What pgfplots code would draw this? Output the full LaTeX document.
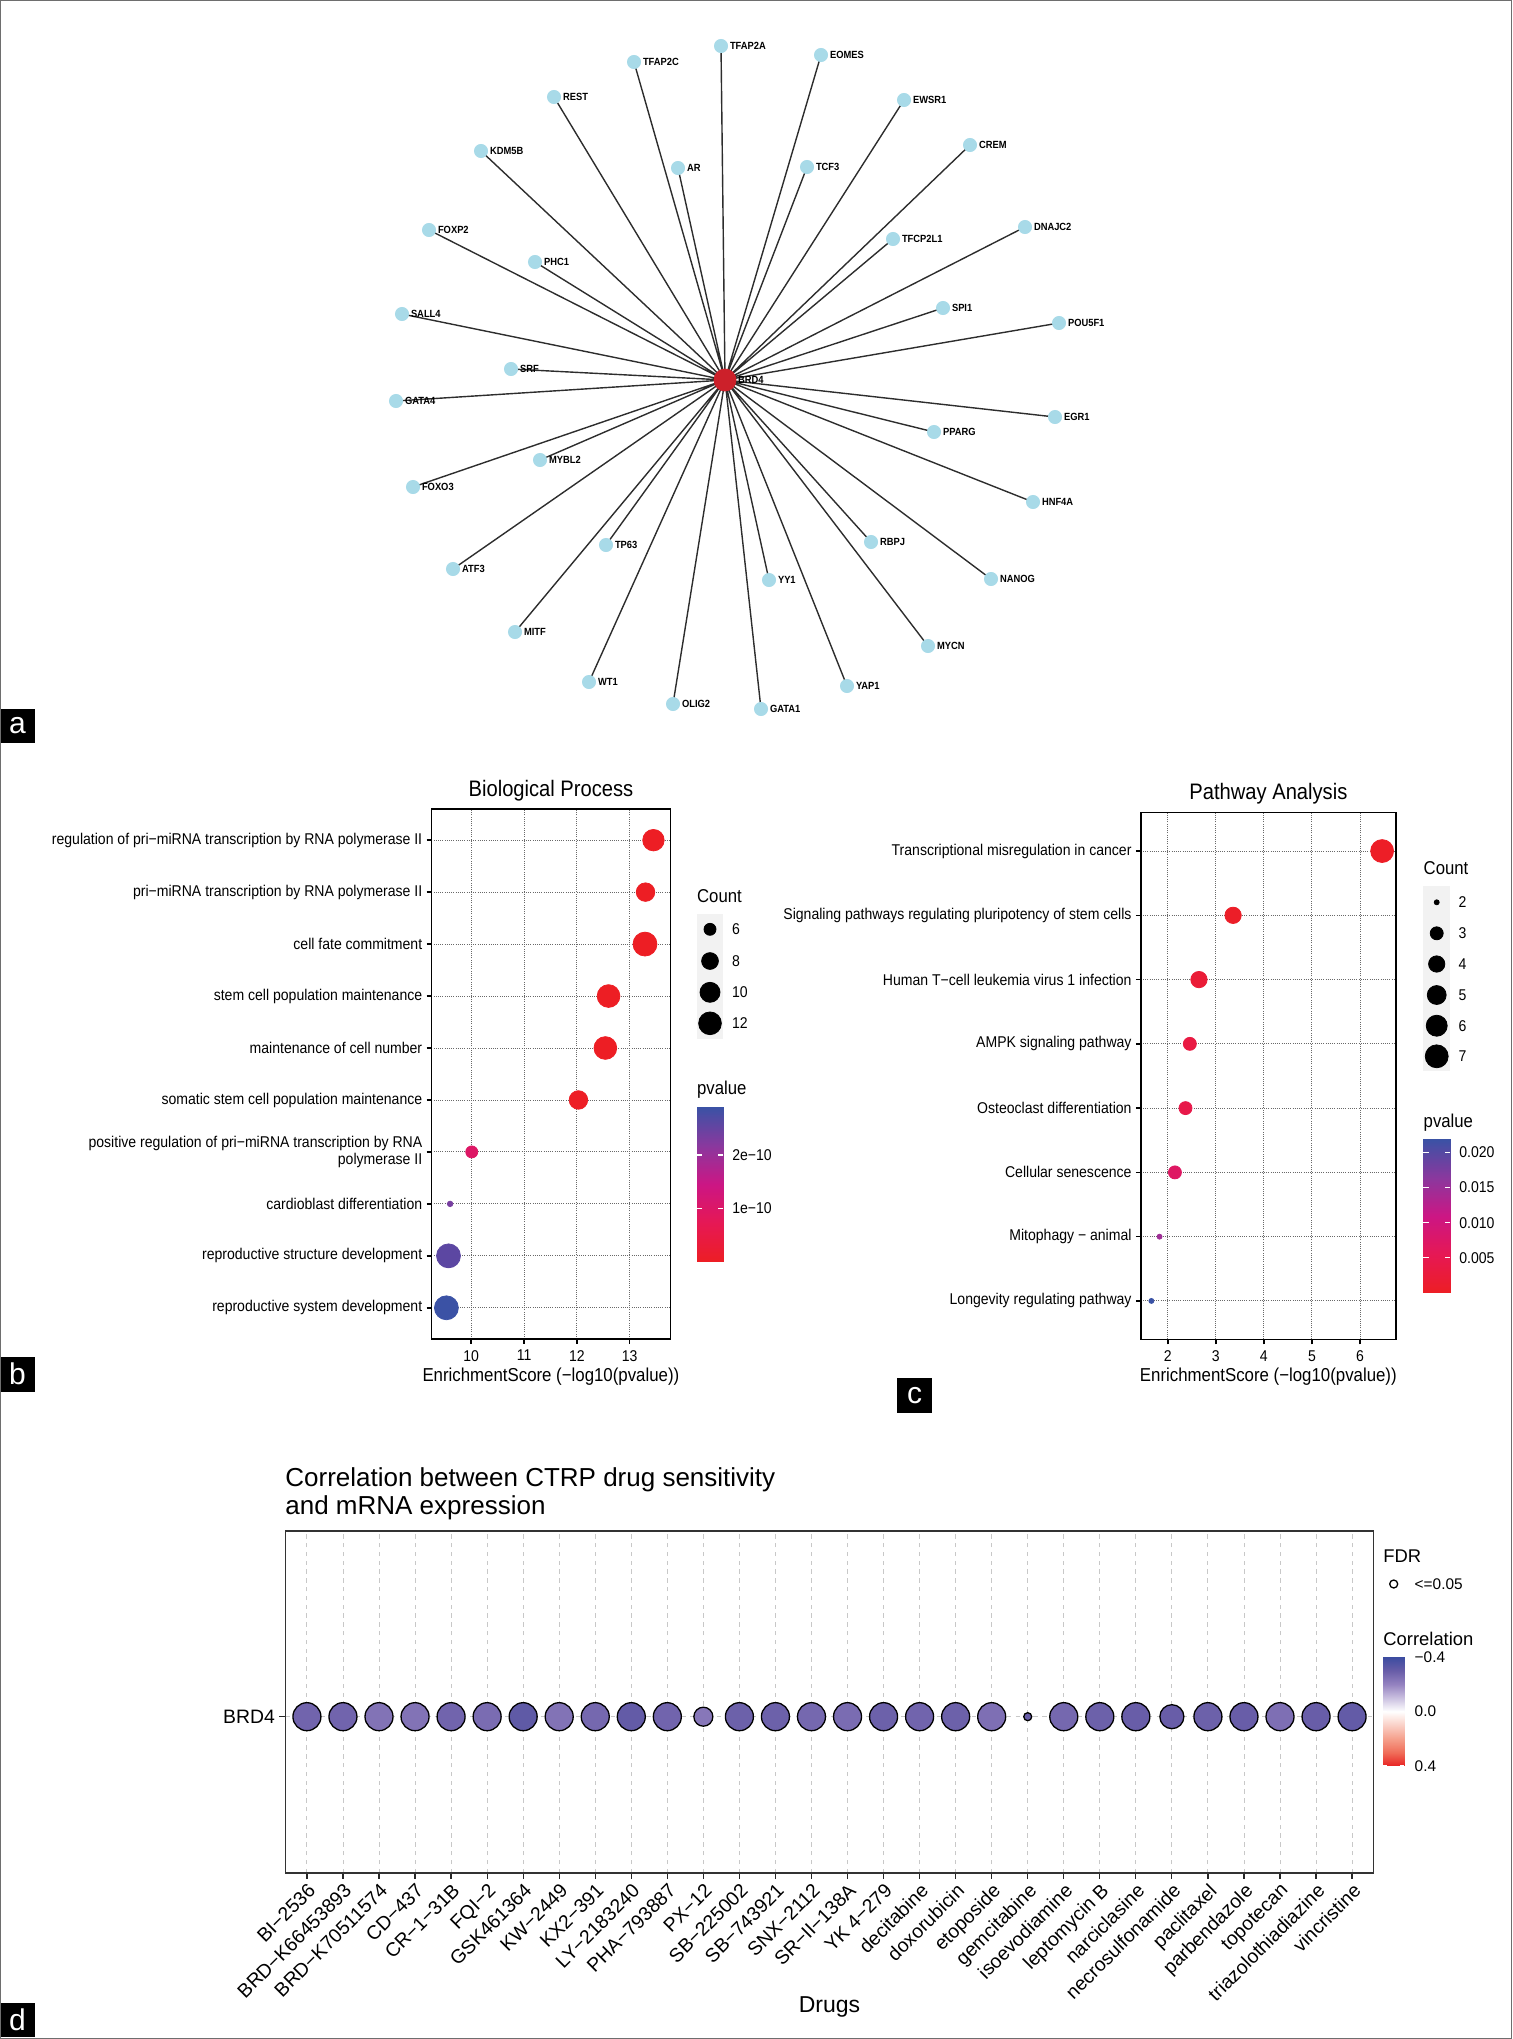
\documentclass[border=0pt]{standalone}
\usepackage{pgfplots}
\pgfplotsset{compat=1.18}
\usepackage{pgfplotstable}
\usepackage{fontspec}
\setmainfont{Liberation Sans}
\newfontfamily\nf{Liberation Sans}[FakeStretch=0.9]

\definecolor{nodeblue}{RGB}{168,218,232}
\definecolor{hubred}{RGB}{204,32,42}
\definecolor{edgecol}{RGB}{45,45,45}
\definecolor{gridcol}{RGB}{105,105,105}
\definecolor{dgrid}{RGB}{200,200,200}
\definecolor{keybg}{RGB}{242,242,242}
\definecolor{framecol}{RGB}{110,110,110}

\pgfplotsset{
  colormap={pv}{rgb255(0cm)=(237,30,36); rgb255(1cm)=(230,24,84); rgb255(2cm)=(204,22,132); rgb255(3cm)=(138,56,158); rgb255(4cm)=(58,82,165)},
  colormap={corr}{rgb255(0cm)=(59,76,160); rgb255(1cm)=(104,93,168); rgb255(2cm)=(148,130,192); rgb255(3cm)=(202,192,224); rgb255(4cm)=(255,255,255); rgb255(5cm)=(250,208,198); rgb255(6cm)=(245,160,140); rgb255(7cm)=(240,110,90); rgb255(8cm)=(232,35,35)},
  cbar/.style={scale only axis, anchor=south west, xmin=0, xmax=1, xtick=\empty,
    ytick pos=both, yticklabel pos=right, tick align=inside, scaled y ticks=false,
    axis line style={draw=none}, axis on top, clip=false},
}

% network nodes (pixel coordinates of the figure)
\pgfplotstableread{
x y name
721 46 TFAP2A
821 55 EOMES
634 62 TFAP2C
554 97 REST
904 100 EWSR1
970 145 CREM
481 151 KDM5B
678 168 AR
807 167 TCF3
1025 227 DNAJC2
429 230 FOXP2
893 239 TFCP2L1
535 262 PHC1
943 308 SPI1
1059 323 POU5F1
402 314 SALL4
511 369 SRF
396 401 GATA4
1055 417 EGR1
934 432 PPARG
540 460 MYBL2
413 487 FOXO3
1033 502 HNF4A
871 542 RBPJ
606 545 TP63
453 569 ATF3
991 579 NANOG
769 580 YY1
515 632 MITF
928 646 MYCN
589 682 WT1
847 686 YAP1
673 704 OLIG2
761 709 GATA1
}\netdata

% Biological process: x = enrichment, y = row (10 = top), c = count, p = pvalue/1e-10
\pgfplotstableread{
x y c p
13.45 10 11 0.0004
13.30 9 9 0.0005
13.29 8 13 0.0005
12.60 7 12 0.0025
12.54 6 12 0.0029
12.03 5 9 0.0093
10.01 4 6 0.98
9.60 3 5 2.35
9.57 2 13 2.60
9.53 1 13 2.90
}\bdata

% Pathway analysis
\pgfplotstableread{
x y c p
6.46 8 7 0.00035
3.36 7 4 0.00044
2.65 6 4 0.0022
2.46 5 3 0.0035
2.37 4 3 0.0043
2.15 3 3 0.0071
1.83 2 2 0.0148
1.66 1 2 0.0219
}\cdata

% CTRP correlation: x = drug index, r = correlation, d = bubble diameter (px)
\pgfplotstableread{
x r d
1 -0.28 28
2 -0.28 28
3 -0.24 28
4 -0.24 28
5 -0.28 28
6 -0.26 28
7 -0.32 28
8 -0.24 28
9 -0.27 28
10 -0.31 28
11 -0.28 28
12 -0.23 19
13 -0.29 28
14 -0.29 28
15 -0.27 28
16 -0.26 28
17 -0.29 28
18 -0.28 28
19 -0.29 28
20 -0.25 28
21 -0.30 8
22 -0.27 28
23 -0.29 28
24 -0.30 28
25 -0.30 24
26 -0.29 28
27 -0.30 28
28 -0.25 28
29 -0.30 28
30 -0.31 28
}\ddata

\begin{document}
\begin{tikzpicture}
\useasboundingbox (0,0) rectangle (756pt,1019.5pt);

% ---------------- panel b ----------------
\begin{axis}[
  at={(215.7pt,350pt)}, anchor=south west, scale only axis,
  width=119.5pt, height=265pt,
  xmin=9.246, xmax=13.771, ymin=0.4, ymax=10.6,
  xtick={10,11,12,13}, xticklabels={10,11,12,13},
  ytick={1,...,10},
  yticklabels={reproductive system development, reproductive structure development, cardioblast differentiation, {positive regulation of pri−miRNA transcription by RNA\\polymerase II}, somatic stem cell population maintenance, maintenance of cell number, stem cell population maintenance, cell fate commitment, pri−miRNA transcription by RNA polymerase II, regulation of pri−miRNA transcription by RNA polymerase II},
  tick pos=left, tick align=outside, major tick length=2.4pt,
  tick style={black, line width=0.8pt},
  axis line style={black, line width=0.85pt},
  grid=major, major grid style={gridcol, line width=0.45pt, dash pattern=on 0.5pt off 0.6pt},
  xticklabel style={font=\nf\fontsize{7.8}{9}\selectfont, inner sep=3pt},
  yticklabel style={font=\nf\fontsize{7.8}{8.7}\selectfont, align=right, inner sep=2pt},
  xlabel={EnrichmentScore (−log10(pvalue))},
  xlabel style={font=\nf\fontsize{9.35}{11}\selectfont, at={(axis description cs:0.5,-0.0711)}, anchor=center},
  colormap name=pv, point meta min=0, point meta max=2.906,
  clip=false,
]
\addplot[scatter, only marks, mark=*, point meta=explicit,
  scatter/use mapped color={draw=mapped color, fill=mapped color},
  visualization depends on={(5.5+18.4*sqrt((\thisrow{c}-5)/8))/4 \as \rad},
  scatter/@pre marker code/.append style={/tikz/mark size=\rad pt}]
  table[x=x, y=y, meta=p] {\bdata};
\end{axis}

% colour bar of panel b
\begin{axis}[cbar, at={(348.35pt,388.65pt)}, width=13.3pt, height=77.5pt,
  ymin=0, ymax=2.906, ytick={1,2}, yticklabels={1e−10,2e−10},
  major tick length=2.7pt, ytick style={white, line width=0.6pt},
  yticklabel style={font=\nf\fontsize{7.8}{9}\selectfont, inner sep=0pt, xshift=4.3pt},
  colormap name=pv, point meta min=0, point meta max=2.906]
\addplot[surf, shader=interp, mesh/rows=2, point meta=y] coordinates {(0,0) (1,0) (0,2.906) (1,2.906)};
\end{axis}

% ---------------- panel c ----------------
\begin{axis}[
  at={(570.35pt,349.75pt)}, anchor=south west, scale only axis,
  width=127.65pt, height=263.5pt,
  xmin=1.438, xmax=6.749, ymin=0.4, ymax=8.6,
  xtick={2,3,4,5,6}, xticklabels={2,3,4,5,6},
  ytick={1,...,8},
  yticklabels={Longevity regulating pathway, Mitophagy − animal, Cellular senescence, Osteoclast differentiation, AMPK signaling pathway, Human T−cell leukemia virus 1 infection, Signaling pathways regulating pluripotency of stem cells, Transcriptional misregulation in cancer},
  tick pos=left, tick align=outside, major tick length=2.4pt,
  tick style={black, line width=0.8pt},
  axis line style={black, line width=0.85pt},
  grid=major, major grid style={gridcol, line width=0.45pt, dash pattern=on 0.5pt off 0.6pt},
  xticklabel style={font=\nf\fontsize{7.8}{9}\selectfont, inner sep=3pt},
  yticklabel style={font=\nf\fontsize{7.8}{8.7}\selectfont, align=right, inner sep=2pt},
  xlabel={EnrichmentScore (−log10(pvalue))},
  xlabel style={font=\nf\fontsize{9.35}{11}\selectfont, at={(axis description cs:0.5,-0.0706)}, anchor=center},
  colormap name=pv, point meta min=0, point meta max=0.0219,
  clip=false,
]
\addplot[scatter, only marks, mark=*, point meta=explicit,
  scatter/use mapped color={draw=mapped color, fill=mapped color},
  visualization depends on={(5+17.9*sqrt((\thisrow{c}-2)/5))/4 \as \rad},
  scatter/@pre marker code/.append style={/tikz/mark size=\rad pt}]
  table[x=x, y=y, meta=p] {\cdata};
\end{axis}

% colour bar of panel c
\begin{axis}[cbar, at={(711.65pt,373.15pt)}, width=13.35pt, height=76.7pt,
  ymin=0, ymax=0.0219, ytick={0.005,0.010,0.015,0.020}, yticklabels={0.005,0.010,0.015,0.020},
  major tick length=2.7pt, ytick style={white, line width=0.6pt},
  yticklabel style={font=\nf\fontsize{7.8}{9}\selectfont, inner sep=0pt, xshift=4.5pt},
  colormap name=pv, point meta min=0, point meta max=0.0219]
\addplot[surf, shader=interp, mesh/rows=2, point meta=y] coordinates {(0,0) (1,0) (0,0.0219) (1,0.0219)};
\end{axis}

% ---------------- panel d ----------------
\begin{axis}[
  at={(142.65pt,83pt)}, anchor=south west, scale only axis,
  width=544.2pt, height=171pt,
  xmin=0.4, xmax=30.6, ymin=0, ymax=2.188,
  xtick={1,...,30},
  xticklabels={BI−2536, BRD−K66453893, BRD−K70511574, CD−437, CR−1−31B, FQI−2, GSK461364, KW−2449, KX2−391, LY−2183240, PHA−793887, PX−12, SB−225002, SB−743921, SNX−2112, SR−II−138A, YK 4−279, decitabine, doxorubicin, etoposide, gemcitabine, isoevodiamine, leptomycin B, narciclasine, necrosulfonamide, paclitaxel, parbendazole, topotecan, triazolothiadiazine, vincristine},
  ytick={1}, yticklabels={BRD4},
  tick pos=left, tick align=outside, major tick length=3pt,
  tick style={black!85, line width=0.6pt},
  axis line style={black!80, line width=0.7pt},
  grid=major, major grid style={dgrid, dash pattern=on 2.2pt off 2.2pt, line width=0.45pt},
  xticklabel style={rotate=45, anchor=north east, font=\fontsize{9.7}{11}\selectfont, inner sep=1pt},
  yticklabel style={font=\fontsize{9.7}{11}\selectfont, inner sep=2pt},
  xlabel={Drugs},
  xlabel style={font=\fontsize{11.5}{13}\selectfont, at={(axis description cs:0.5,-0.391)}, anchor=center},
  colormap name=corr, point meta min=-0.4, point meta max=0.4,
  clip=false,
]
\addplot[scatter, only marks, mark=*, point meta=explicit,
  scatter/use mapped color={draw=black, fill=mapped color},
  mark options={line width=0.65pt},
  visualization depends on={\thisrow{d}/4 \as \rad},
  scatter/@pre marker code/.append style={/tikz/mark size=\rad pt}]
  table[x=x, y expr=1, meta=r] {\ddata};
\end{axis}

% colour bar of panel d
\begin{axis}[cbar, at={(691.35pt,136.5pt)}, width=10.65pt, height=54.5pt,
  y dir=reverse, ymin=-0.4, ymax=0.4, ytick={-0.4,0,0.4}, yticklabels={−0.4,0.0,0.4},
  major tick length=2pt, ytick style={white, line width=0.5pt},
  yticklabel style={font=\fontsize{7.7}{9}\selectfont, inner sep=0pt, xshift=5.15pt},
  colormap name=corr, point meta min=-0.4, point meta max=0.4]
\addplot[surf, shader=interp, mesh/rows=2, point meta=y] coordinates {(0,-0.4) (1,-0.4) (0,0.4) (1,0.4)};
\end{axis}

% ---------------- overlay in figure pixels (network, legends, labels) ----------------
\begin{axis}[
  at={(0pt,0pt)}, anchor=south west, scale only axis,
  width=756pt, height=1019.5pt,
  xmin=0, xmax=1512, ymin=0, ymax=2039, y dir=reverse,
  hide axis, clip=false,
]
% network edges
\addplot[edgecol, line width=0.7pt, no marks, line join=round] coordinates {
(725,380) (721,46) (725,380) (821,55) (725,380) (634,62) (725,380) (554,97)
(725,380) (904,100) (725,380) (970,145) (725,380) (481,151) (725,380) (678,168)
(725,380) (807,167) (725,380) (1025,227) (725,380) (429,230) (725,380) (893,239)
(725,380) (535,262) (725,380) (943,308) (725,380) (1059,323) (725,380) (402,314)
(725,380) (511,369) (725,380) (396,401) (725,380) (1055,417) (725,380) (934,432)
(725,380) (540,460) (725,380) (413,487) (725,380) (1033,502) (725,380) (871,542)
(725,380) (606,545) (725,380) (453,569) (725,380) (991,579) (725,380) (769,580)
(725,380) (515,632) (725,380) (928,646) (725,380) (589,682) (725,380) (847,686)
(725,380) (673,704) (725,380) (761,709) };
% network nodes
\addplot[only marks, mark=*, mark size=3.3pt, mark options={fill=nodeblue, draw=nodeblue},
  nodes near coords, point meta=explicit symbolic,
  every node near coord/.append style={anchor=west, xshift=4.3pt, inner sep=0pt, text=black, font=\nf\bfseries\fontsize{5.2}{6}\selectfont}]
  table[x=x, y=y, meta=name] {\netdata};
\addplot[only marks, mark=*, mark size=5.5pt, mark options={fill=hubred, draw=hubred},
  nodes near coords, point meta=explicit symbolic,
  every node near coord/.append style={anchor=west, xshift=6.3pt, inner sep=0pt, text=black, font=\nf\bfseries\fontsize{5.2}{6}\selectfont}]
  coordinates {(725,380) [BRD4]};

% panel b legend
\node[anchor=base, font=\nf\fontsize{11.2}{13}\selectfont] at (axis cs:551,796.3) {Biological Process};
\node[anchor=base west, inner sep=0pt, font=\nf\fontsize{9.3}{11}\selectfont] at (axis cs:696.7,902.7) {Count};
\fill[keybg] (axis cs:696.7,914) rectangle (axis cs:723.3,1039);
\addplot[only marks, mark=*, black, mark size=3.0pt] coordinates {(710,929.3)};
\addplot[only marks, mark=*, black, mark size=4.2pt] coordinates {(710,961)};
\addplot[only marks, mark=*, black, mark size=5.0pt] coordinates {(710,992.3)};
\addplot[only marks, mark=*, black, mark size=5.68pt] coordinates {(710,1023.3)};
\node[anchor=west, inner sep=0pt, font=\nf\fontsize{7.8}{9}\selectfont] at (axis cs:731.7,929.3) {6};
\node[anchor=west, inner sep=0pt, font=\nf\fontsize{7.8}{9}\selectfont] at (axis cs:731.7,961) {8};
\node[anchor=west, inner sep=0pt, font=\nf\fontsize{7.8}{9}\selectfont] at (axis cs:731.7,992.3) {10};
\node[anchor=west, inner sep=0pt, font=\nf\fontsize{7.8}{9}\selectfont] at (axis cs:731.7,1023.3) {12};
\node[anchor=base west, inner sep=0pt, font=\nf\fontsize{9.3}{11}\selectfont] at (axis cs:696.7,1094) {pvalue};

% panel c legend
\node[anchor=base, font=\nf\fontsize{11.2}{13}\selectfont] at (axis cs:1268.4,799.8) {Pathway Analysis};
\node[anchor=base west, inner sep=0pt, font=\nf\fontsize{9.3}{11}\selectfont] at (axis cs:1423.3,874.3) {Count};
\fill[keybg] (axis cs:1423.3,886) rectangle (axis cs:1450,1070.7);
\addplot[only marks, mark=*, black, mark size=1.25pt] coordinates {(1436.7,902.3)};
\addplot[only marks, mark=*, black, mark size=3.25pt] coordinates {(1436.7,933.3)};
\addplot[only marks, mark=*, black, mark size=4.08pt] coordinates {(1436.7,964)};
\addplot[only marks, mark=*, black, mark size=4.73pt] coordinates {(1436.7,995)};
\addplot[only marks, mark=*, black, mark size=5.25pt] coordinates {(1436.7,1025.7)};
\addplot[only marks, mark=*, black, mark size=5.73pt] coordinates {(1436.7,1056.3)};
\node[anchor=west, inner sep=0pt, font=\nf\fontsize{7.8}{9}\selectfont] at (axis cs:1458.3,902.3) {2};
\node[anchor=west, inner sep=0pt, font=\nf\fontsize{7.8}{9}\selectfont] at (axis cs:1458.3,933.3) {3};
\node[anchor=west, inner sep=0pt, font=\nf\fontsize{7.8}{9}\selectfont] at (axis cs:1458.3,964) {4};
\node[anchor=west, inner sep=0pt, font=\nf\fontsize{7.8}{9}\selectfont] at (axis cs:1458.3,995) {5};
\node[anchor=west, inner sep=0pt, font=\nf\fontsize{7.8}{9}\selectfont] at (axis cs:1458.3,1025.7) {6};
\node[anchor=west, inner sep=0pt, font=\nf\fontsize{7.8}{9}\selectfont] at (axis cs:1458.3,1056.3) {7};
\node[anchor=base west, inner sep=0pt, font=\nf\fontsize{9.3}{11}\selectfont] at (axis cs:1423.3,1127) {pvalue};

% panel d title and legend
\node[anchor=base west, inner sep=0pt, font=\fontsize{13}{15}\selectfont] at (axis cs:285,1486.7) {Correlation between CTRP drug sensitivity};
\node[anchor=base west, inner sep=0pt, font=\fontsize{13}{15}\selectfont] at (axis cs:285,1514) {and mRNA expression};
\node[anchor=base west, inner sep=0pt, font=\fontsize{9.2}{11}\selectfont] at (axis cs:1383,1562.4) {FDR};
\addplot[only marks, mark=o, mark size=2pt, mark options={line width=0.65pt, black}] coordinates {(1393.7,1584)};
\node[anchor=west, inner sep=0pt, font=\fontsize{7.7}{9}\selectfont] at (axis cs:1414.3,1584) {<=0.05};
\node[anchor=base west, inner sep=0pt, font=\fontsize{9.2}{11}\selectfont] at (axis cs:1383,1645.7) {Correlation};

% panel letters
\fill[black] (axis cs:0,708.7) rectangle (axis cs:34.7,742.6);
\node[text=white, font=\fontsize{15}{15}\selectfont] at (axis cs:17.35,725.6) {a};
\fill[black] (axis cs:0,1356.7) rectangle (axis cs:34.8,1391.7);
\node[text=white, font=\fontsize{15}{15}\selectfont] at (axis cs:17.4,1374.2) {b};
\fill[black] (axis cs:897,1378) rectangle (axis cs:932,1413);
\node[text=white, font=\fontsize{15}{15}\selectfont] at (axis cs:914.5,1395.5) {c};
\fill[black] (axis cs:0,2002.7) rectangle (axis cs:34.7,2036.7);
\node[text=white, font=\fontsize{15}{15}\selectfont] at (axis cs:17.35,2019.7) {d};

% outer frame
\draw[framecol, line width=0.65pt] (axis cs:0.65,0.65) rectangle (axis cs:1511.35,2038.35);
\end{axis}
\end{tikzpicture}
\end{document}
